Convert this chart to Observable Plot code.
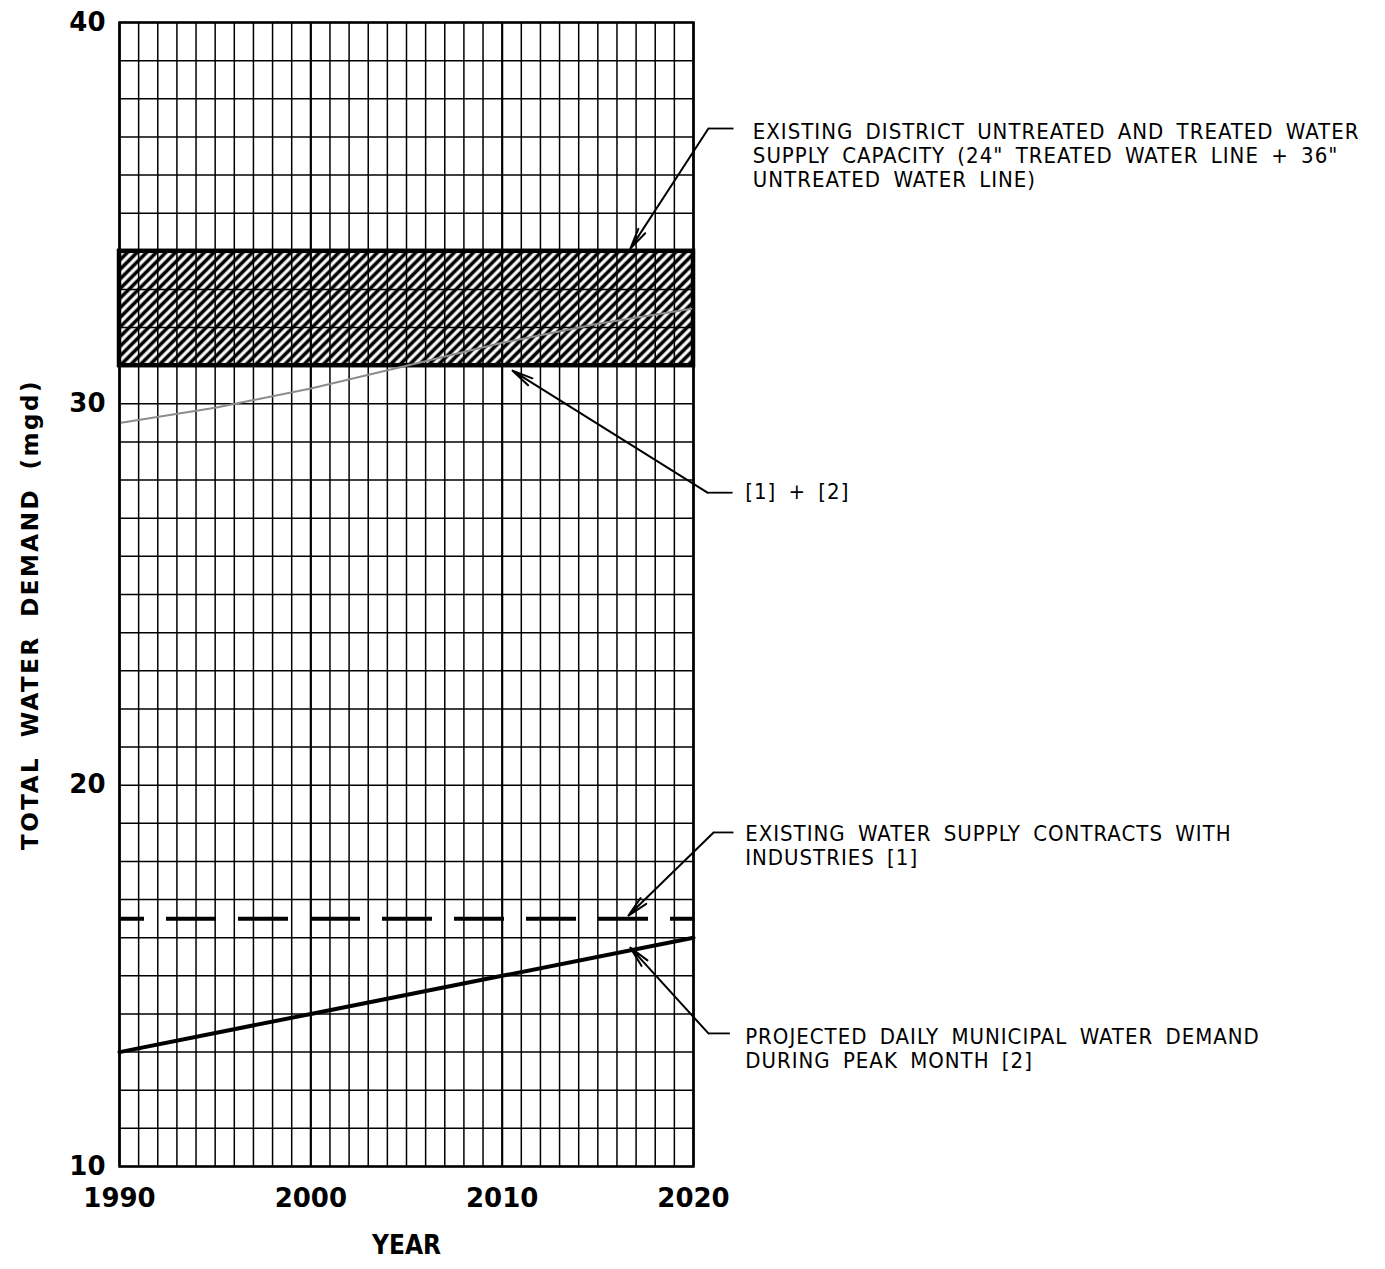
<!DOCTYPE html>
<html><head><meta charset="utf-8">
<script src="https://cdn.jsdelivr.net/npm/d3@7"></script>
<script src="https://cdn.jsdelivr.net/npm/@observablehq/plot@0.6"></script>
<style>body{margin:0;background:#fff}</style>
</head><body><div id="chart"></div>
<script>
// ---- data ----
const demandYears = [1990, 2000, 2010, 2020];
const municipalDemand = [13.0, 14.0, 15.0, 16.0];          // [2]
const combinedYears = [1990, 1995, 2000, 2005, 2010, 2015, 2020];
const combinedDemand = [29.5, 29.9, 30.4, 31.0, 31.6, 32.1, 32.5]; // [1] + [2]
const industryContracts = [16.5];                          // [1]
const capacityRange = [31, 34];                            // supply capacity band
const xTicks = [1990, 2000, 2010, 2020];
const yTicks = [10, 20, 30, 40];

// annotation texts and anchor points (data coordinates)
const noteTexts = [
  "EXISTING DISTRICT UNTREATED AND TREATED WATER\nSUPPLY CAPACITY (24\" TREATED WATER LINE + 36\"\nUNTREATED WATER LINE)",
  "[1] + [2]",
  "EXISTING WATER SUPPLY CONTRACTS WITH\nINDUSTRIES [1]",
  "PROJECTED DAILY MUNICIPAL WATER DEMAND\nDURING PEAK MONTH [2]"
];
const noteYear = [2023.1, 2022.7, 2022.7, 2022.7];
const noteValue = [37.38, 27.94, 18.98, 13.66];
const elbowYear = [2020.78, 2020.73, 2021.05, 2020.78];
const elbowValue = [37.22, 27.67, 18.76, 13.49];
const stubYear = [2022.09, 2022.04, 2022.09, 2021.9];
const tipYear = [2016.7, 2010.54, 2016.6, 2016.7];
const tipValue = [34.07, 30.87, 16.58, 15.74];

// ---- tables ----
const municipal = demandYears.map((y, i) => ({year: y, value: municipalDemand[i]}));
const combined = combinedYears.map((y, i) => ({year: y, value: combinedDemand[i]}));
const notes = noteTexts.map((t, i) => ({
  text: t, x: noteYear[i], y: noteValue[i],
  ex: elbowYear[i], ey: elbowValue[i], sx: stubYear[i], tx: tipYear[i], ty: tipValue[i]
}));
const gridYears = d3.range(1990, 2021);
const gridValues = d3.range(10, 41);

const NOTE_FONT = "Liberation Sans Narrow, DejaVu Sans Condensed, sans-serif";
const YLABEL_FONT = "DejaVu Sans, Verdana, sans-serif";

const chart = Plot.plot({
  width: 1385,
  height: 1269,
  marginLeft: 119,
  marginRight: 692,
  marginTop: 22,
  marginBottom: 103,
  x: {domain: [1990, 2020]},
  y: {domain: [10, 40]},
  style: {fontFamily: "DejaVu Sans, sans-serif", color: "black", background: "white"},
  marks: [
    Plot.ruleX(gridYears, {y1: 10, y2: 40, stroke: "black", strokeWidth: d => d % 10 === 0 ? 2.2 : 1.5}),
    Plot.ruleY(gridValues, {x1: 1990, x2: 2020, stroke: "black", strokeWidth: 1.5}),
    Plot.rect([capacityRange], {x1: 1990, x2: 2020, y1: d => d[0], y2: d => d[1],
      fill: "url(#hatch)", stroke: "black", strokeWidth: 4.5}),
    Plot.line(combined, {x: "year", y: "value", stroke: "#8c8c8c", strokeWidth: 2}),
    Plot.ruleY(industryContracts, {x1: 1990, x2: 2020, stroke: "black", strokeWidth: 4,
      strokeDasharray: "50,22", strokeDashoffset: 25}),
    Plot.line(municipal, {x: "year", y: "value", stroke: "black", strokeWidth: 4}),
    Plot.frame({stroke: "black", strokeWidth: 2.5}),
    Plot.link(notes, {x1: "ex", y1: "ey", x2: "sx", y2: "ey", stroke: "black", strokeWidth: 1.8}),
    Plot.arrow(notes, {x1: "ex", y1: "ey", x2: "tx", y2: "ty", stroke: "black", strokeWidth: 2,
      headLength: 16, headAngle: 22}),
    Plot.text(notes, {x: "x", y: "y", text: "text", textAnchor: "start", lineAnchor: "top",
      lineHeight: 1.08, fontSize: 22, fill: "black", fontFamily: NOTE_FONT}),
    Plot.axisY({ticks: yTicks, tickSize: 0, tickPadding: 14, fontSize: 26, label: null}),
    Plot.axisX({ticks: xTicks, tickSize: 0, tickPadding: 22, fontSize: 26, label: null,
      tickFormat: d => String(d)}),
    Plot.text(["TOTAL WATER DEMAND (mgd)"], {frameAnchor: "left", textAnchor: "middle", rotate: -90,
      dx: -89, dy: 20, fontSize: 23, fontWeight: "bold", fill: "black", fontFamily: YLABEL_FONT}),
    Plot.text(["YEAR"], {frameAnchor: "bottom", dy: 87, fontSize: 26, fontWeight: "bold", fill: "black",
      fontFamily: "DejaVu Sans Condensed, DejaVu Sans, sans-serif"})
  ]
});

// hatch pattern definition
const svg = d3.select(chart);
const defs = svg.insert("defs", ":first-child");
defs.append("pattern")
  .attr("id", "hatch")
  .attr("patternUnits", "userSpaceOnUse")
  .attr("width", 6.8).attr("height", 6.8)
  .attr("patternTransform", "rotate(45)")
  .append("line")
  .attr("x1", 3.4).attr("y1", -1).attr("x2", 3.4).attr("y2", 7.8)
  .attr("stroke", "black").attr("stroke-width", 3.6);

svg.selectAll('g[aria-label="y-axis tick label"], g[aria-label="x-axis tick label"]')
  .attr("font-weight", "bold").attr("font-family", "DejaVu Sans, sans-serif").attr("font-size", 26);
svg.selectAll("g").filter(function() { return this.getAttribute("font-family") === NOTE_FONT; })
  .attr("letter-spacing", "1px").attr("word-spacing", "5px");
svg.selectAll("g").filter(function() { return this.getAttribute("font-family") === YLABEL_FONT; })
  .attr("letter-spacing", "2.5px").attr("word-spacing", "8px");

document.getElementById("chart").appendChild(chart);
</script>
</body></html>
